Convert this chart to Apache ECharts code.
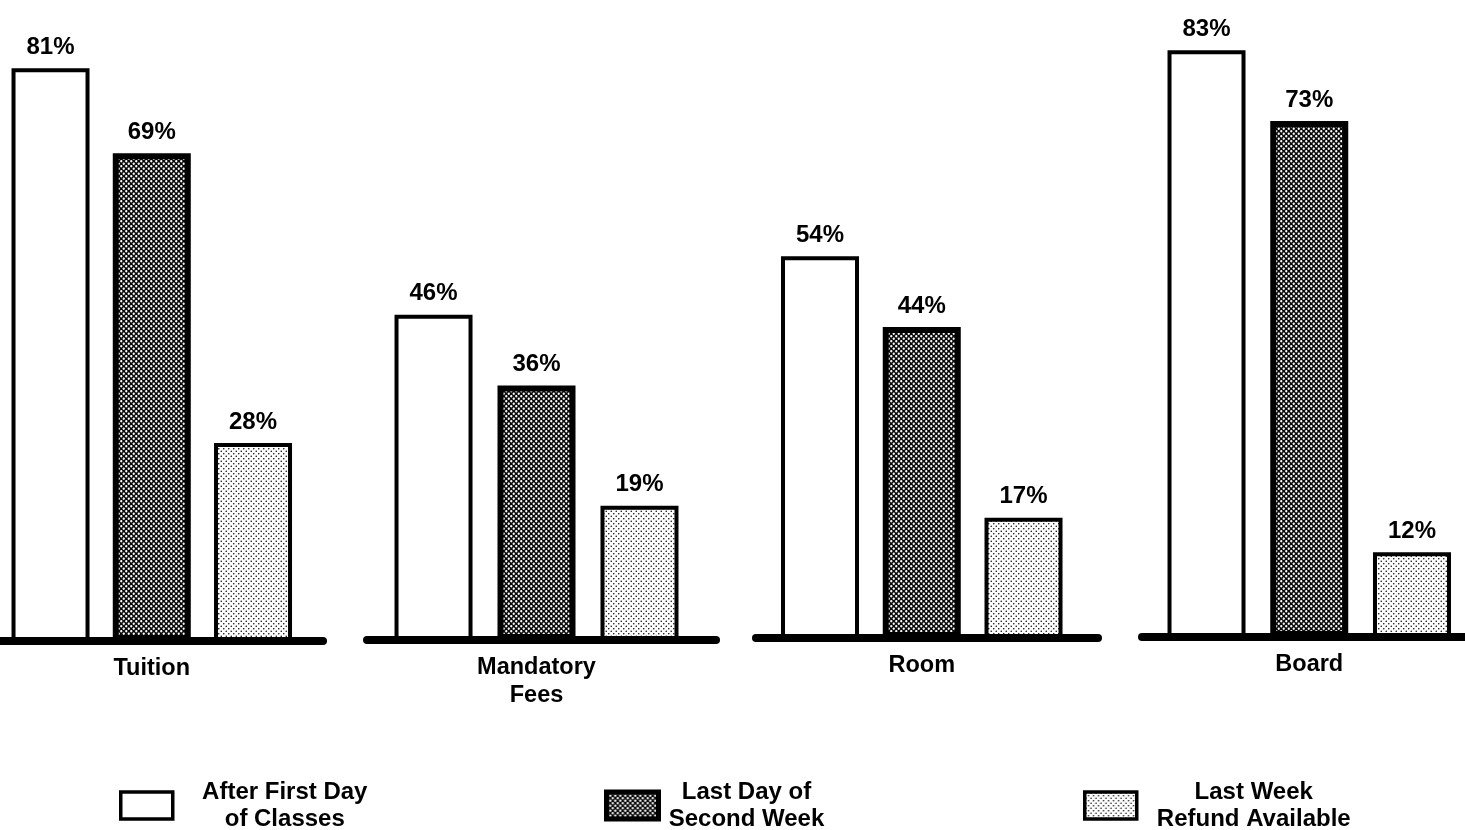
<!DOCTYPE html>
<html>
<head>
<meta charset="utf-8">
<script src="https://cdn.jsdelivr.net/npm/echarts@6/dist/echarts.min.js"></script>
<style>
html,body{margin:0;padding:0;background:#fff;}
#chart{width:1465px;height:830px;}
</style>
</head>
<body>
<div id="chart"></div>
<script>
// ---- data ----
const categories = ['Tuition', 'Mandatory\nFees', 'Room', 'Board'];
const seriesNames = ['After First Day of Classes', 'Last Day of Second Week', 'Last Week Refund Available'];
const legendLines = [['After First Day', 'of Classes'], ['Last Day of', 'Second Week'], ['Last Week', 'Refund Available']];
const afterFirstDay = [81, 46, 54, 83];
const lastDaySecondWeek = [69, 36, 44, 73];
const lastWeekRefund = [28, 19, 17, 12];
const valueSets = [afterFirstDay, lastDaySecondWeek, lastWeekRefund];

// ---- patterns ----
function makePattern(dark) {
  const c = document.createElement('canvas');
  c.width = 5; c.height = 5;
  const g = c.getContext('2d');
  if (dark) {
    g.fillStyle = '#0a0a0a'; g.fillRect(0, 0, 5, 5);
    g.fillStyle = '#fff';
    [[1.25,1.25],[3.75,3.75]].forEach(p => { g.beginPath(); g.arc(p[0], p[1], 1.15, 0, Math.PI*2); g.fill(); });
  } else {
    g.fillStyle = '#fff'; g.fillRect(0, 0, 5, 5);
    g.fillStyle = '#111';
    [[1.25,1.25],[3.75,3.75]].forEach(p => { g.beginPath(); g.arc(p[0], p[1], 0.8, 0, Math.PI*2); g.fill(); });
  }
  return c;
}
const fills = ['#ffffff', {image: makePattern(true), repeat: 'repeat'}, {image: makePattern(false), repeat: 'repeat'}];
const borderWidths = [4, 6, 4];

const FONT = '"Liberation Sans", Arial, sans-serif';
// layout of each group (baseline extents / axis window)
const gridLeft = [0, 367, 756, 1142];
const gridRight = [323, 716, 1098, 1465];
const gridBaseY = [641, 640, 638, 637];
const axisMin = [-0.499, -0.646, -0.629, -0.628];
const axisMax = [2.691, 2.743, 2.732, 2.516];
const PX_PER_PCT = 7.07, Y_MAX = 90;

const grids = [], xAxes = [], yAxes = [], series = [];
categories.forEach((cat, gi) => {
  grids.push({
    left: gridLeft[gi], width: gridRight[gi] - gridLeft[gi],
    top: gridBaseY[gi] - Y_MAX * PX_PER_PCT, height: Y_MAX * PX_PER_PCT
  });
  xAxes.push({
    type: 'value', gridIndex: gi, min: axisMin[gi], max: axisMax[gi], z: 3,
    axisLine: {show: true, onZero: false, lineStyle: {color: '#000', width: 8}},
    axisTick: {show: false},
    splitLine: {show: false},
    axisLabel: {
      customValues: [1], formatter: () => cat,
      color: '#000', fontFamily: FONT, fontWeight: 'bold', fontSize: 23.5, lineHeight: 28, margin: 14
    }
  });
  yAxes.push({type: 'value', gridIndex: gi, min: 0, max: Y_MAX, show: false, splitLine: {show: false}});
  valueSets.forEach((vals, si) => {
    series.push({
      type: 'bar', name: seriesNames[si], xAxisIndex: gi, yAxisIndex: gi,
      data: [[si, vals[gi]]], barWidth: 78, barGap: '-100%',
      itemStyle: {color: fills[si], borderColor: '#000', borderWidth: borderWidths[si]},
      label: {show: true, position: 'top', distance: 9, formatter: p => p.value[1] + '%',
              color: '#000', fontFamily: FONT, fontWeight: 'bold', fontSize: 24},
      emphasis: {disabled: true}, animation: false
    });
  });
});

const legendIconLeft = [114, 599, 1078];
const legendTextWidth = [214, 166, 224];
const legends = seriesNames.map((n, i) => ({
  left: legendIconLeft[i], top: 775,
  itemWidth: 52, itemHeight: 27, icon: 'rect',
  data: [{name: n, itemStyle: {color: fills[i], borderColor: '#000', borderWidth: i === 1 ? 5 : 3.5}}],
  selectedMode: false,
  formatter: () => legendLines[i].map(l => '{a|' + l + '}').join('\n'),
  textStyle: {
    color: '#000', fontFamily: FONT, fontSize: 24, fontWeight: 'bold',
    rich: {a: {width: legendTextWidth[i], align: 'center', fontFamily: FONT, fontWeight: 'bold', fontSize: 24, lineHeight: 27, color: '#000'}}
  }
}));

const chart = echarts.init(document.getElementById('chart'), null, {renderer: 'canvas'});
chart.setOption({
  backgroundColor: '#fff',
  animation: false,
  grid: grids, xAxis: xAxes, yAxis: yAxes,
  legend: legends,
  series: series
});
</script>
</body>
</html>
